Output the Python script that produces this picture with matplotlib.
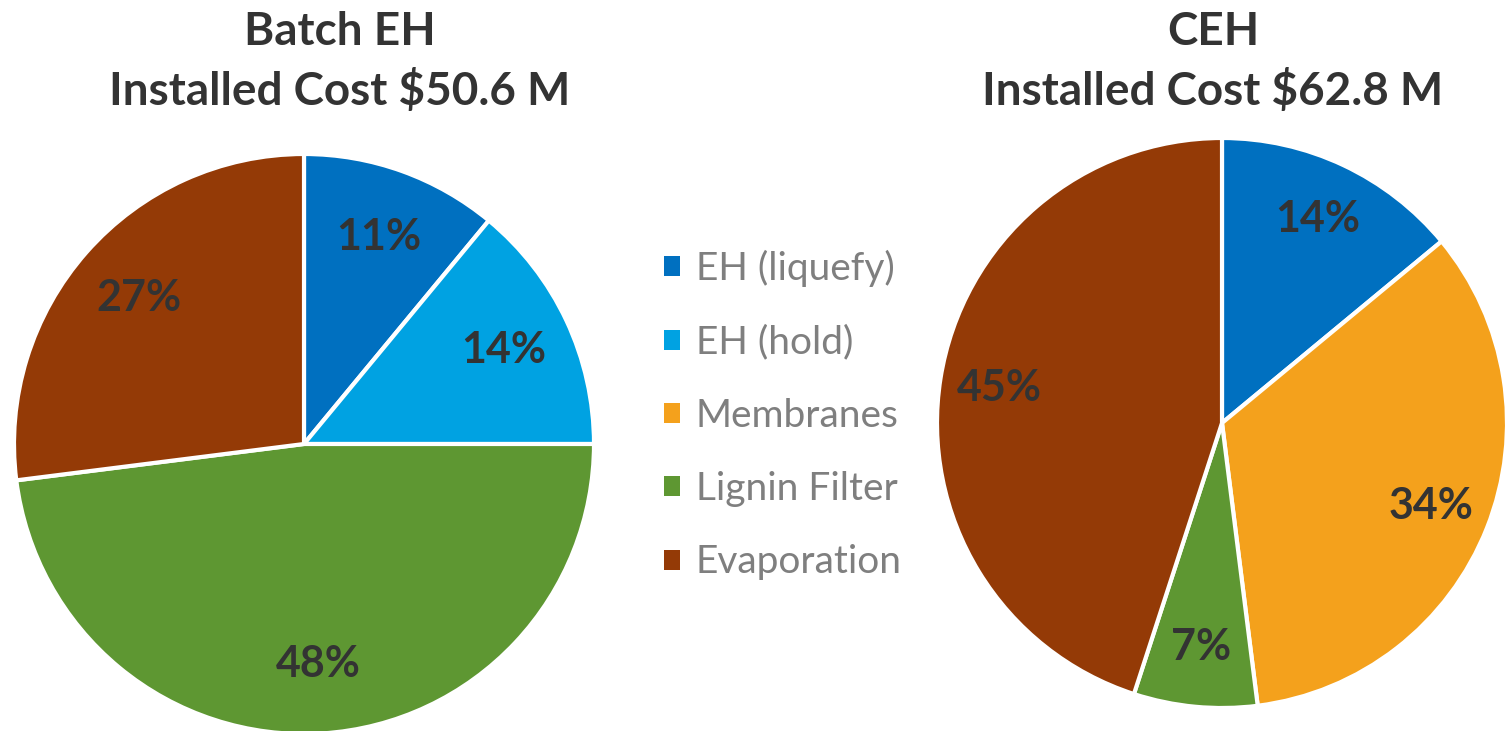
import matplotlib
matplotlib.use("Agg")
import matplotlib.pyplot as plt
from matplotlib.patches import Patch

plt.rcParams['font.family'] = ['Lato', 'DejaVu Sans']

categories = ["EH (liquefy)", "EH (hold)", "Membranes", "Lignin Filter", "Evaporation"]
colors = {"EH (liquefy)": "#0070C0", "EH (hold)": "#00A2E2", "Membranes": "#F4A11C",
          "Lignin Filter": "#5E9732", "Evaporation": "#943A06"}

batch_labels = ["EH (liquefy)", "EH (hold)", "Lignin Filter", "Evaporation"]
batch_values = [11, 14, 48, 27]
ceh_labels = ["EH (liquefy)", "Membranes", "Lignin Filter", "Evaporation"]
ceh_values = [14, 34, 7, 45]

W, H = 1506, 731
fig = plt.figure(figsize=(W / 100, H / 100), dpi=100)

def pix_axes(cx, cy, r):
    return fig.add_axes([(cx - r) / W, (H - cy - r) / H, 2 * r / W, 2 * r / H])

def draw(ax, labels, values, pdist):
    wedges, texts, autotexts = ax.pie(
        values, colors=[colors[l] for l in labels], startangle=90, counterclock=False,
        autopct='%d%%', pctdistance=pdist, radius=1,
        wedgeprops=dict(edgecolor='white', linewidth=3),
        textprops=dict(fontsize=31, fontweight='bold', color='#333333'))
    ax.set_xlim(-1, 1)
    ax.set_ylim(-1, 1)
    ax.set_aspect('equal')
    ax.axis('off')
    return autotexts

ax1 = pix_axes(304, 444, 290)
draw(ax1, batch_labels, batch_values, 0.76)
ax2 = pix_axes(1222, 423, 285)
draw(ax2, ceh_labels, ceh_values, 0.79)

title_kw = dict(fontsize=33, fontweight='bold', color='#333333', ha='center', va='center')
fig.text(340 / W, 1 - 32 / H, "Batch EH", **title_kw)
fig.text(340 / W, 1 - 91 / H, "Installed Cost $50.6 M", **title_kw)
fig.text(1213 / W, 1 - 32 / H, "CEH", **title_kw)
fig.text(1213 / W, 1 - 91 / H, "Installed Cost $62.8 M", **title_kw)

handles = [Patch(facecolor=colors[c], edgecolor='none') for c in categories]
fig.legend(handles, categories, loc='upper left', bbox_to_anchor=(664 / W, 1 - 250 / H),
           frameon=False, fontsize=28, labelcolor='#7F7F7F', handlelength=0.41,
           handleheight=0.41, handletextpad=0.41, labelspacing=0.96,
           borderaxespad=0, borderpad=0)

fig.savefig("out.png", dpi=100)
